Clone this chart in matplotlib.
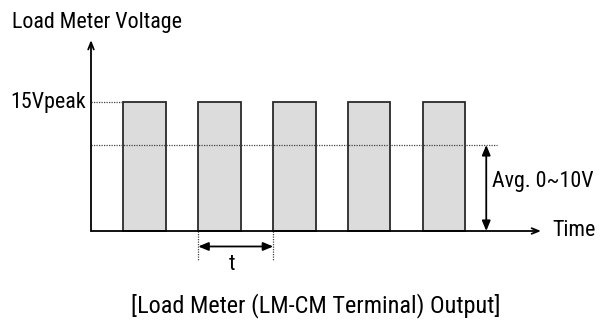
import matplotlib
matplotlib.use("Agg")
import matplotlib.pyplot as plt

FAM = ['Roboto Condensed', 'Archivo Narrow', 'PT Sans Narrow', 'Liberation Sans', 'DejaVu Sans']

# Data (time in periods, voltage in V)
pulse_starts = [0.43, 1.43, 2.43, 3.42, 4.42]
pulse_width = 0.57
peak_voltage = 15
avg_voltage = 10
period_t = [1.43, 2.43]
y_label = "Load Meter Voltage"
x_label = "Time"
peak_label = "15Vpeak"
avg_label = "Avg. 0~10V"
period_label = "t"
caption = "[Load Meter (LM-CM Terminal) Output]"

fig = plt.figure(figsize=(6.05, 3.2), dpi=100)
ax = fig.add_axes([0, 0, 1, 1])
ax.set_xlim(-91/75, (605-91)/75)
ax.set_ylim((231-320)/8.6, 231/8.6)
ax.axis('off')

for s in pulse_starts:
    ax.add_patch(plt.Rectangle((s, 0), pulse_width, peak_voltage, facecolor='#dcdcdc',
                               edgecolor='#2a2a2a', lw=1.3, zorder=2))

# dotted reference lines
ax.plot([0, pulse_starts[0]], [peak_voltage]*2, ls=(0, (1, 1)), color='#444444', lw=0.9, zorder=3)
ax.plot([0, 5.41], [avg_voltage]*2, ls=(0, (1, 1)), color='#444444', lw=0.9, zorder=3)

# axes arrows
ax.annotate('', xy=(6.0, 0), xytext=(0, 0),
            arrowprops=dict(arrowstyle='->,head_length=0.5,head_width=0.2', lw=1.3, color='black', shrinkA=0, shrinkB=0), zorder=4)
ax.annotate('', xy=(0, 22.2), xytext=(0, 0),
            arrowprops=dict(arrowstyle='->,head_length=0.5,head_width=0.2', lw=1.3, color='black', shrinkA=0, shrinkB=0), zorder=4)

# avg double arrow
ax.annotate('', xy=(5.27, avg_voltage), xytext=(5.27, 0),
            arrowprops=dict(arrowstyle='<|-|>,head_length=0.6,head_width=0.25', lw=1.3, color='black', shrinkA=0, shrinkB=0), zorder=4)

# period arrow
ax.annotate('', xy=(period_t[0], -1.8), xytext=(period_t[1], -1.8),
            arrowprops=dict(arrowstyle='<|-|>,head_length=0.6,head_width=0.25', lw=1.3, color='black', shrinkA=0, shrinkB=0), zorder=4)
for xv in period_t:
    ax.plot([xv, xv], [0, -3.5], ls=(0, (1, 1)), color='#444444', lw=0.9, zorder=3)

fs = 15.8
ax.text(-1.06, 23.64, y_label, fontsize=fs, family=FAM, va='baseline', ha='left')
ax.text(-0.067, 14.34, peak_label, fontsize=fs, family=FAM, va='baseline', ha='right')
ax.text(5.35, 5.12, avg_label, fontsize=fs, family=FAM, va='baseline', ha='left')
ax.text(6.147, -0.6, x_label, fontsize=fs, family=FAM, va='baseline', ha='left')
ax.text(1.88, -4.5, period_label, fontsize=fs, family=FAM, va='baseline', ha='center')
ax.text((316-91)/75, -9.5, caption, fontsize=17.5, family=FAM, va='baseline', ha='center')

fig.savefig('out.png', dpi=100)
